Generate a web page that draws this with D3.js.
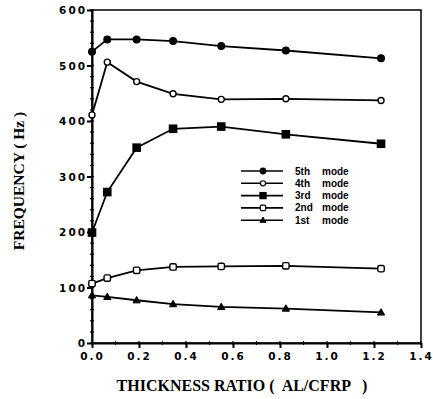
<!DOCTYPE html>
<html>
<head>
<meta charset="utf-8">
<script src="https://cdn.jsdelivr.net/npm/d3@7"></script>
<style>
  body { margin: 0; background: #fff; }
  svg { display: block; }
</style>
</head>
<body>
<svg id="chart"></svg>
<script>
// thickness ratio (AL/CFRP)
const ratio = [0, 0.065, 0.19, 0.345, 0.55, 0.825, 1.23];

const mode5 = [525, 547, 547, 544, 535, 527, 513];
const mode4 = [411, 506, 471, 449, 439, 440, 437];
const mode3 = [199, 272, 352, 386, 390, 376, 359];
const mode2 = [107, 117, 131, 137, 138, 139, 134];
const mode1 = [86, 83, 77, 70, 65, 62, 55];

const xTicks = [0, 0.2, 0.4, 0.6, 0.8, 1.0, 1.2, 1.4];
const yTicks = [0, 100, 200, 300, 400, 500, 600];

const series = [
  { name: "5th", label: "mode", values: mode5, marker: "circle", fill: true },
  { name: "4th", label: "mode", values: mode4, marker: "circle", fill: false },
  { name: "3rd", label: "mode", values: mode3, marker: "square", fill: true },
  { name: "2nd", label: "mode", values: mode2, marker: "square", fill: false },
  { name: "1st", label: "mode", values: mode1, marker: "triangle", fill: true }
];

const W = 433, H = 399;
const margin = { top: 10, right: 12, bottom: 56, left: 92 };
const width = W - margin.left - margin.right;
const height = H - margin.top - margin.bottom;

const svg = d3.select("#chart")
  .attr("width", W)
  .attr("height", H);

const g = svg.append("g")
  .attr("transform", "translate(" + margin.left + "," + margin.top + ")");

const x = d3.scaleLinear().domain([0, 1.4]).range([0, width]);
const y = d3.scaleLinear().domain([0, 600]).range([height, 0]);

// frame
g.append("rect")
  .attr("width", width)
  .attr("height", height)
  .attr("fill", "none")
  .attr("stroke", "#000")
  .attr("stroke-width", 1.5);

// minor ticks
g.selectAll(".ytm")
  .data(d3.range(0, 601, 20))
  .join("line")
  .attr("x1", -2).attr("x2", 2)
  .attr("y1", d => y(d)).attr("y2", d => y(d))
  .attr("stroke", "#000").attr("stroke-width", 1.2);

g.selectAll(".xtm")
  .data(d3.range(0, 1.41, 0.1))
  .join("line")
  .attr("x1", d => x(d)).attr("x2", d => x(d))
  .attr("y1", height - 2).attr("y2", height + 2)
  .attr("stroke", "#000").attr("stroke-width", 1.2);

// axes
const yAxis = g.append("g")
  .call(d3.axisLeft(y).tickValues(yTicks).tickFormat(d3.format("d")).tickSizeInner(5).tickSizeOuter(0));
const xAxis = g.append("g")
  .attr("transform", "translate(0," + height + ")")
  .call(d3.axisBottom(x).tickValues(xTicks).tickFormat(d3.format(".1f")).tickSizeInner(5).tickSizeOuter(0));

[yAxis, xAxis].forEach(a => {
  a.select(".domain").attr("stroke-width", 2);
  a.selectAll(".tick line").attr("stroke-width", 2);
  a.selectAll("text")
    .attr("font-family", "'DejaVu Sans', Verdana, sans-serif")
    .attr("font-weight", "bold")
    .attr("font-size", 10.5)
    .attr("letter-spacing", 2)
    .attr("fill", "#000");
});
yAxis.selectAll("text").attr("x", -5).attr("dy", "0.36em");
xAxis.selectAll("text").attr("y", 10).attr("dx", 0);

// axis titles
svg.append("text")
  .attr("x", 242)
  .attr("y", 391)
  .attr("text-anchor", "middle")
  .attr("font-family", "'Liberation Serif', 'Times New Roman', serif")
  .attr("font-weight", "bold")
  .attr("font-size", 16)
  .attr("xml:space", "preserve")
  .text("THICKNESS RATIO (  AL/CFRP   )");

svg.append("text")
  .attr("transform", "translate(24,181) rotate(-90)")
  .attr("text-anchor", "middle")
  .attr("font-family", "'Liberation Serif', 'Times New Roman', serif")
  .attr("font-weight", "bold")
  .attr("font-size", 15.5)
  .text("FREQUENCY ( Hz )");

const line = d3.line()
  .x(d => x(d[0]))
  .y(d => y(d[1]));

function drawMarker(sel, s) {
  if (s.marker === "circle") {
    sel.append("circle").attr("r", s.fill ? 3.3 : 3)
      .attr("fill", s.fill ? "#000" : "#fff")
      .attr("stroke", "#000").attr("stroke-width", 1.4);
  } else if (s.marker === "square") {
    const r = s.fill ? 3.6 : 3.2;
    sel.append("rect").attr("x", -r).attr("y", -r).attr("width", 2 * r).attr("height", 2 * r)
      .attr("rx", s.fill ? 0 : 1.5)
      .attr("fill", s.fill ? "#000" : "#fff")
      .attr("stroke", "#000").attr("stroke-width", 1.4);
  } else {
    sel.append("path").attr("d", "M0,-3.8L3.6,2.6L-3.6,2.6Z")
      .attr("fill", "#000").attr("stroke", "#000").attr("stroke-width", 1);
  }
}

series.forEach(s => {
  const pts = ratio.map((r, i) => [r, s.values[i]]);
  g.append("path")
    .datum(pts)
    .attr("d", line)
    .attr("fill", "none")
    .attr("stroke", "#000")
    .attr("stroke-width", 1.8);
  pts.forEach(p => {
    const m = g.append("g").attr("transform", "translate(" + x(p[0]) + "," + y(p[1]) + ")");
    drawMarker(m, s);
  });
});

// legend
const leg = svg.append("g").attr("transform", "translate(241,171)");
series.forEach((s, i) => {
  const row = leg.append("g").attr("transform", "translate(0," + (i * 12.3) + ")");
  row.append("line").attr("x1", 0).attr("x2", 42).attr("y1", 0).attr("y2", 0)
    .attr("stroke", "#000").attr("stroke-width", 1.6);
  const m = row.append("g").attr("transform", "translate(22,0) scale(0.85)");
  drawMarker(m, s);
  row.append("text").attr("x", 54).attr("y", 0).attr("dy", "0.35em")
    .attr("font-family", "Arial, 'Liberation Sans', sans-serif")
    .attr("font-weight", "bold").attr("font-size", 10)
    .text(s.name);
  row.append("text").attr("x", 81).attr("y", 0).attr("dy", "0.35em")
    .attr("font-family", "Arial, 'Liberation Sans', sans-serif")
    .attr("font-weight", "bold").attr("font-size", 10)
    .text(s.label);
});
</script>
</body>
</html>
